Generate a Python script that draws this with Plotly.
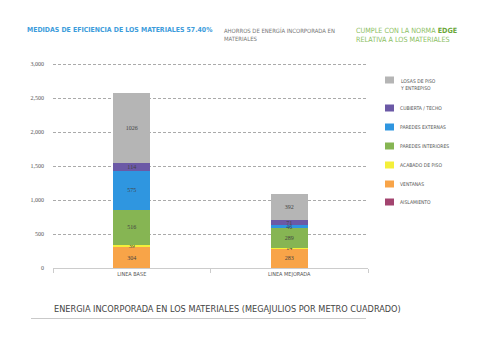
import plotly.graph_objects as go

categories = ["LINEA BASE", "LINEA MEJORADA"]
series_names = ["AISLAMIENTO", "VENTANAS", "ACABADO DE PISO", "PAREDES INTERIORES",
                "PAREDES EXTERNAS", "CUBIERTA / TECHO", "LOSAS DE PISO<br>Y ENTREPISO"]
series_colors = ["#a3446f", "#f8a448", "#f4ef3a", "#86b553", "#2f96e0", "#6b59a6", "#b5b5b5"]
aislamiento = [0, 0]
ventanas = [304, 283]
acabado = [39, 14]
paredes_int = [516, 289]
paredes_ext = [575, 46]
cubierta = [114, 71]
losas = [1026, 392]
series_values = [aislamiento, ventanas, acabado, paredes_int, paredes_ext, cubierta, losas]
yticks = [0, 500, 1000, 1500, 2000, 2500, 3000]

NARROW = "DejaVu Sans Condensed, Liberation Sans Narrow, Arial Narrow, sans-serif"
SERIF = "Liberation Serif, DejaVu Serif, Times New Roman, serif"

# plot area: x 53..368 px, y 62..268 px (0 -> 268, 3000 -> 64)
PH = 206.0
def py(p):  # pixel y -> paper y
    return (268 - p) / PH
def px(p):  # pixel x -> paper x
    return (p - 53) / 315.0

fig = go.Figure()
for name, color, vals in zip(series_names, series_colors, series_values):
    fig.add_trace(go.Bar(
        x=categories, y=vals, name=name, marker=dict(color=color, line=dict(width=0)),
        text=[str(v) if v else "" for v in vals], textposition="inside",
        insidetextanchor="middle", constraintext="none",
        textfont=dict(family=SERIF, size=6, color="#444444"),
        showlegend=False, hoverinfo="skip",
    ))

# manual legend (top to bottom: reversed stacking order)
leg_y = [202, 184, 165, 146, 127, 108, 80]
for name, color, y in zip(series_names, series_colors, leg_y):
    fig.add_shape(type="rect", xref="paper", yref="paper",
                  x0=px(385), x1=px(394), y0=py(y + 3.5), y1=py(y - 3.5),
                  fillcolor=color, line=dict(width=0))
    fig.add_annotation(text=name, xref="paper", yref="paper",
                       x=px(398), y=py(y - 4.5) if "<br>" in name else py(y),
                       xanchor="left", yanchor="top" if "<br>" in name else "middle",
                       align="left", showarrow=False,
                       font=dict(family=NARROW, size=5, color="#555555"))

# headers
fig.add_annotation(text="<b>MEDIDAS DE EFICIENCIA DE LOS MATERIALES 57.40%</b>", xref="paper", yref="paper",
                   x=px(25), y=py(30), xanchor="left", yanchor="middle", showarrow=False,
                   font=dict(family=NARROW, size=6.9, color="#3d9cdb"))
fig.add_annotation(text="AHORROS DE ENERGÍA INCORPORADA EN<br>MATERIALES", xref="paper", yref="paper",
                   x=px(222), y=py(25), xanchor="left", yanchor="top", align="left",
                   showarrow=False, font=dict(family=NARROW, size=5.9, color="#777777"))
fig.add_annotation(text="CUMPLE CON LA NORMA <b><span style='color:#6aa637'>EDGE</span></b><br>RELATIVA A LOS MATERIALES",
                   xref="paper", yref="paper",
                   x=px(354), y=py(24), xanchor="left", yanchor="top", align="left",
                   showarrow=False, font=dict(family=NARROW, size=7.2, color="#8cc063"))
# bottom title + underline
fig.add_annotation(text="ENERGIA INCORPORADA EN LOS MATERIALES (MEGAJULIOS POR METRO CUADRADO)",
                   xref="paper", yref="paper", x=px(52), y=py(309),
                   xanchor="left", yanchor="middle", showarrow=False,
                   font=dict(family=NARROW, size=9.1, color="#444444"))
fig.add_shape(type="line", xref="paper", yref="paper", x0=px(31), x1=px(366),
              y0=py(318.5), y1=py(318.5), line=dict(color="#bbbbbb", width=0.8))

fig.update_layout(
    width=480, height=339, barmode="stack", bargap=0.765,
    margin=dict(l=53, r=112, t=62, b=71),
    paper_bgcolor="white", plot_bgcolor="white",
    xaxis=dict(showline=True, linecolor="#cccccc", linewidth=1, ticks="outside", tickson="boundaries",
               ticklen=4, tickcolor="#cccccc",
               tickfont=dict(family=NARROW, size=5.5, color="#555555")),
    yaxis=dict(range=[0, 3030], tickvals=yticks, tickformat=",", showline=False, zeroline=False,
               showgrid=True, gridcolor="#aaaaaa", griddash="3px,2px", gridwidth=0.7,
               tickfont=dict(family=SERIF, size=6, color="#555555"), ticklabelstandoff=8),
    showlegend=False,
)
fig.write_html("out.html")
